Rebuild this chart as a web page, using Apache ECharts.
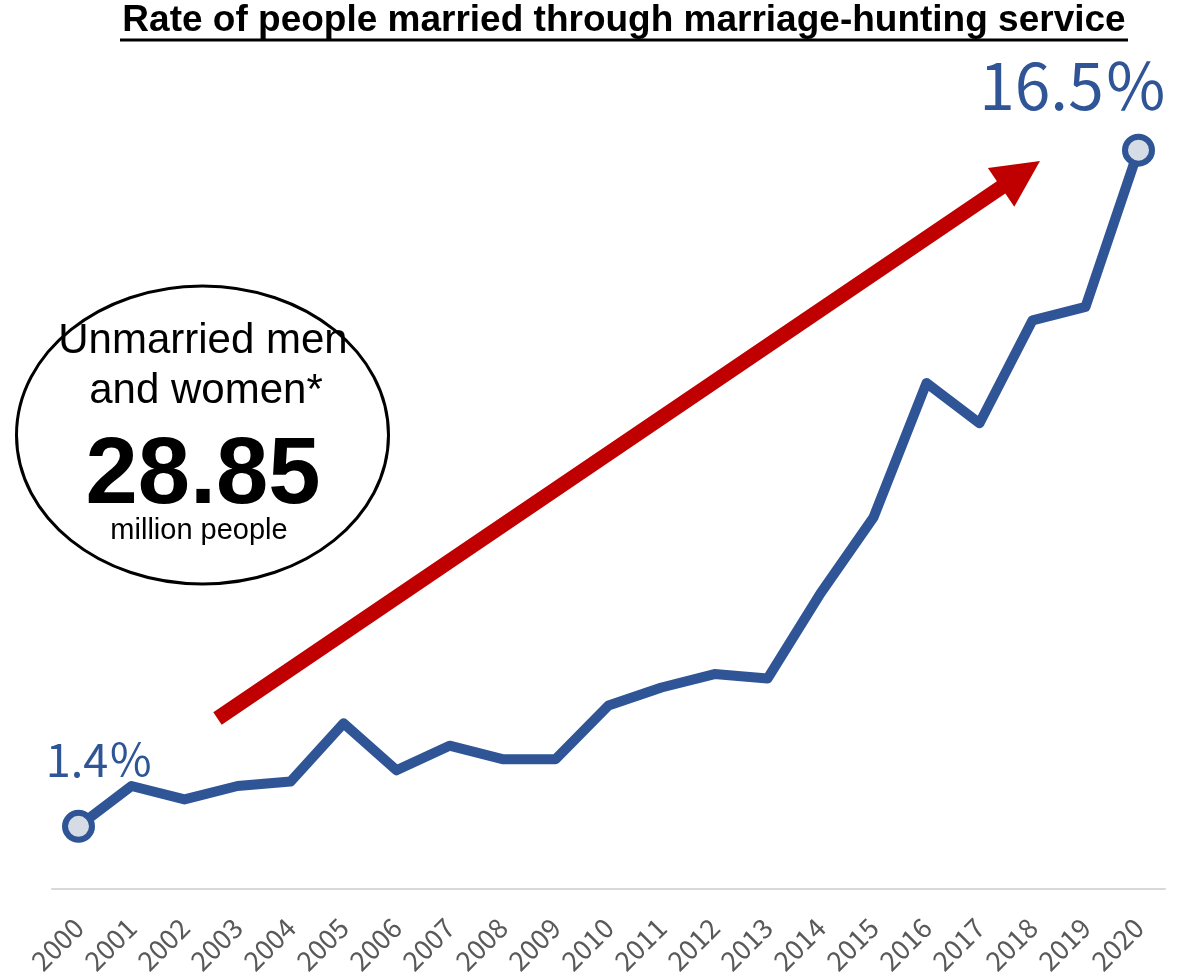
<!DOCTYPE html>
<html>
<head>
<meta charset="utf-8">
<script src="https://cdn.jsdelivr.net/npm/echarts@6/dist/echarts.min.js"></script>
<style>
html, body { margin: 0; padding: 0; background: #fff; }
#chart { width: 1193px; height: 973px; }
</style>
</head>
<body>
<div id="chart"></div>
<script>
var years = ['2000', '2001', '2002', '2003', '2004', '2005', '2006', '2007', '2008', '2009', '2010',
	'2011', '2012', '2013', '2014', '2015', '2016', '2017', '2018', '2019', '2020'];
// rate of people married through a marriage-hunting service (%)
var rates = [1.4, 2.3, 2.0, 2.3, 2.4, 3.7, 2.65, 3.2, 2.9, 2.9, 4.1,
	4.5, 4.8, 4.7, 6.6, 8.3, 11.3, 10.4, 12.7, 13.0, 16.5];
var unmarried = '28.85';

var blue = '#2f5597';
var last = rates.length - 1;

var seriesData = [];
for (var i = 0; i < rates.length; i++) {
	if (i == 0 || i == last) {
		seriesData.push({
			value: rates[i],
			symbol: 'circle',
			label: {
				show: true,
				position: 'inside',
				fontSize: i == 0 ? 45 : 64,
				offset: i == 0 ? [21, -66] : [-65, -64]
			}
		});
	} else {
		seriesData.push({ value: rates[i], symbol: 'none' });
	}
}

// red trend arrow (annotation)
function arrowPoints(sx, sy, tx, ty, halfShaft, halfHead, headLen) {
	var dx = tx - sx, dy = ty - sy;
	var len = Math.sqrt(dx * dx + dy * dy);
	var ux = dx / len, uy = dy / len;
	var nx = -uy, ny = ux;
	var bx = tx - ux * headLen, by = ty - uy * headLen;
	return [
		[sx + nx * halfShaft, sy + ny * halfShaft],
		[bx + nx * halfShaft, by + ny * halfShaft],
		[bx + nx * halfHead, by + ny * halfHead],
		[tx, ty],
		[bx - nx * halfHead, by - ny * halfHead],
		[bx - nx * halfShaft, by - ny * halfShaft],
		[sx - nx * halfShaft, sy - ny * halfShaft]
	];
}

var chart = echarts.init(document.getElementById('chart'));
var option = {
	animation: false,
	grid: { left: 52, right: 28, top: 83, bottom: 84, outerBoundsMode: 'none' },
	xAxis: {
		type: 'category',
		data: years,
		boundaryGap: true,
		axisLine: { lineStyle: { color: '#d9d9d9', width: 2 } },
		axisTick: { show: false },
		axisLabel: {
			rotate: 45,
			interval: 0,
			margin: 34,
			color: '#595959',
			fontSize: 27,
			fontFamily: 'Noto Sans CJK JP'
		}
	},
	yAxis: {
		type: 'value',
		min: 0,
		max: 18,
		show: false,
		splitLine: { show: false }
	},
	series: [{
		type: 'line',
		data: seriesData,
		symbolSize: 27,
		lineStyle: { color: blue, width: 10, join: 'round', cap: 'round' },
		itemStyle: { color: '#d6dce5', borderColor: blue, borderWidth: 6 },
		label: {
			formatter: '{c}％',
			color: blue,
			fontFamily: 'Noto Sans CJK JP',
			fontWeight: 'normal'
		},
		z: 3
	}],
	graphic: [
		{
			type: 'text',
			x: 624,
			y: 21,
			style: {
				text: 'Rate of people married through marriage-hunting service',
				font: 'bold 37px "Liberation Sans", Arial, sans-serif',
				fill: '#000',
				align: 'center',
				verticalAlign: 'middle'
			}
		},
		{
			type: 'rect',
			shape: { x: 120, y: 38.5, width: 1008, height: 3 },
			style: { fill: '#000' }
		},
		{
			type: 'polygon',
			shape: { points: arrowPoints(217.5, 718.5, 1040, 161, 7.5, 23.5, 47) },
			style: { fill: '#c00000' },
			z: 2
		},
		{
			type: 'ellipse',
			shape: { cx: 202.5, cy: 435, rx: 186, ry: 149 },
			style: { fill: '#fff', stroke: '#000', lineWidth: 3 },
			z: 4
		},
		{
			type: 'text',
			x: 203,
			y: 341,
			z: 5,
			style: {
				text: 'Unmarried men',
				font: '42px "Liberation Sans", Arial, sans-serif',
				fill: '#000',
				align: 'center',
				verticalAlign: 'middle'
			}
		},
		{
			type: 'text',
			x: 206,
			y: 391,
			z: 5,
			style: {
				text: 'and women*',
				font: '42px "Liberation Sans", Arial, sans-serif',
				fill: '#000',
				align: 'center',
				verticalAlign: 'middle'
			}
		},
		{
			type: 'text',
			x: 203,
			y: 477,
			z: 5,
			style: {
				text: unmarried,
				font: 'bold 94px "Liberation Sans", Arial, sans-serif',
				fill: '#000',
				align: 'center',
				verticalAlign: 'middle'
			}
		},
		{
			type: 'text',
			x: 199,
			y: 531,
			z: 5,
			style: {
				text: 'million people',
				font: '29px "Liberation Sans", Arial, sans-serif',
				fill: '#000',
				align: 'center',
				verticalAlign: 'middle'
			}
		}
	]
};
chart.setOption(option);
</script>
</body>
</html>
